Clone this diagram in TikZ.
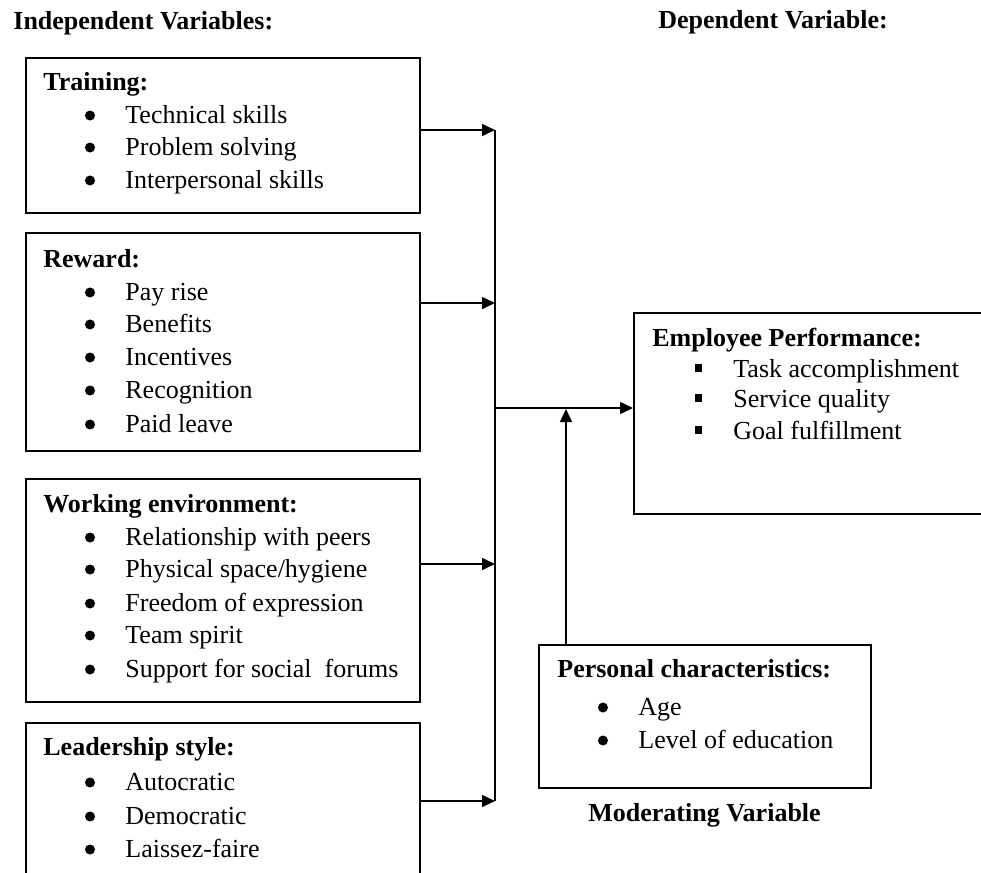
\documentclass[tikz,border=0pt]{standalone}
\usepackage{fontspec}
\setmainfont{Liberation Serif}
\usetikzlibrary{arrows.meta}
\begin{document}
\begin{tikzpicture}[x=0.5pt,y=-0.5pt,
 box/.style={draw, line width=1pt, inner sep=0pt, anchor=north west},
 arr/.style={line width=0.8pt, -{Triangle[length=6.5pt,width=6pt]}},
 trunk/.style={line width=0.8pt},
 hd/.style={anchor=base west, inner sep=0pt, font=\fontsize{13pt}{15pt}\selectfont\bfseries},
 it/.style={anchor=base west, inner sep=0pt, font=\fontsize{13pt}{15pt}\selectfont},
 dot/.style={circle, fill, inner sep=0pt, minimum size=5pt},
 sq/.style={rectangle, fill, inner sep=0pt, minimum width=3.5pt, minimum height=3.8pt}]
\useasboundingbox (0,0) rectangle (981,873);
\clip (0,0) rectangle (981,873);

\node[hd] (indep) at (13,29) {Independent Variables:};
\node[hd] (dep) at (658,28) {Dependent Variable:};

% Training
\node[box, minimum width=197pt, minimum height=77.5pt] (train) at (25,57) {};
\node[hd] (trainh) at (43,90) {Training:};
\foreach \y/\t [count=\i] in {123/Technical skills,155/Problem solving,188/Interpersonal skills}{
  \node[dot] (trb\i) at (90,\y-7.5) {};
  \node[it] (tri\i) at (125,\y) {\t};
}

% Reward
\node[box, minimum width=197pt, minimum height=109pt] (reward) at (25,232) {};
\node[hd] (rewardh) at (43,267) {Reward:};
\foreach \y/\t [count=\i] in {300/Pay rise,332/Benefits,365/Incentives,398/Recognition,432/Paid leave}{
  \node[dot] (rwb\i) at (90,\y-7.5) {};
  \node[it] (rwi\i) at (125,\y) {\t};
}

% Working environment
\node[box, minimum width=197pt, minimum height=111.5pt] (work) at (25,478) {};
\node[hd] (workh) at (43,512) {Working environment:};
\foreach \y/\t [count=\i] in {545/{Relationship with peers},577/{Physical space/hygiene},611/{Freedom of expression},643/{Team spirit},677/{Support for social\ \ forums}}{
  \node[dot] (wkb\i) at (90,\y-7.5) {};
  \node[it] (wki\i) at (125,\y) {\t};
}

% Leadership style
\node[box, minimum width=197pt, minimum height=100pt] (lead) at (25,722) {};
\node[hd] (leadh) at (43,755) {Leadership style:};
\foreach \y/\t [count=\i] in {790/Autocratic,824/Democratic,857/Laissez-faire}{
  \node[dot] (ldb\i) at (90,\y-7.5) {};
  \node[it] (ldi\i) at (125,\y) {\t};
}

% Employee performance
\node[box, minimum width=200pt, minimum height=100.5pt] (emp) at (633,312) {};
\node[hd] (emph) at (652,346) {Employee Performance:};
\foreach \y/\t [count=\i] in {377/Task accomplishment,407/Service quality,439/Goal fulfillment}{
  \node[sq] (epb\i) at (698,\y-9) {};
  \node[it] (epi\i) at (733,\y) {\t};
}

% Personal characteristics
\node[box, minimum width=166pt, minimum height=71.5pt] (pers) at (538,644) {};
\node[hd] (persh) at (557,677) {Personal characteristics:};
\foreach \y/\t [count=\i] in {715/Age,748/Level of education}{
  \node[dot] (psb\i) at (603,\y-7.5) {};
  \node[it] (psi\i) at (638,\y) {\t};
}
\node[hd] (moder) at (588,821) {Moderating Variable};

% connectors
\coordinate (j1) at (495,130);
\coordinate (j2) at (495,303);
\coordinate (j3) at (495,564);
\coordinate (j4) at (495,801);
\coordinate (jm) at (495,408);
\coordinate (mt) at (566,409);
\draw[trunk] (j1) -- (j4);
\draw[arr] (train.east |- j1) -- (j1);
\draw[arr] (reward.east |- j2) -- (j2);
\draw[arr] (work.east |- j3) -- (j3);
\draw[arr] (lead.east |- j4) -- (j4);
\draw[arr] (jm) -- (emp.west |- jm);
\draw[arr] (pers.north -| mt) -- (mt);
\end{tikzpicture}
\end{document}
